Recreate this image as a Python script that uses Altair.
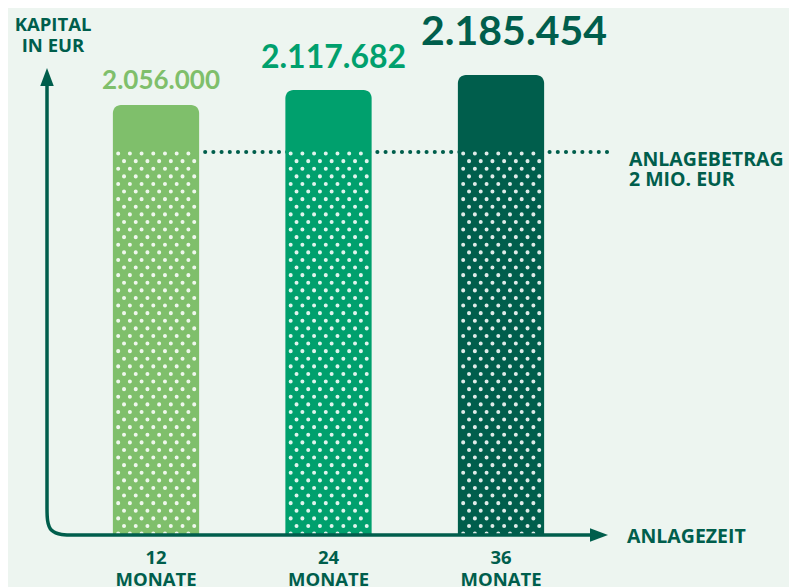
import altair as alt
import pandas as pd

# ---------------- data ----------------
months = [12, 24, 36]
month_labels = ["12", "24", "36"]
month_unit = "MONATE"
capital = [2056000, 2117682, 2185454]
capital_labels = ["2.056.000", "2.117.682", "2.185.454"]
investment = 2000000
investment_label = ["ANLAGEBETRAG", "2 MIO. EUR"]
y_title = ["KAPITAL", "IN EUR"]
x_title = "ANLAGEZEIT"

# ---------------- style ----------------
BG = "#edf5f0"
DARK = "#005e4c"
bar_colors = ["#7fbf6b", "#00a06d", "#005e4c"]
label_sizes = [26, 32, 41]
label_dx = [5, 5, 13]
label_dy = [-16, -22, -30]
FONT_NUM = "Lato"
FONT_LBL = "Open Sans"
LBL_SIZE = 18.5
LBL_SIZE_R = 19.5

W, H = 781, 579
PX_PER_MONTH = 14.375
X_MIN = 12 - 148 / PX_PER_MONTH
X_MAX = X_MIN + W / PX_PER_MONTH
# the infographic is not to scale: piecewise value scale
Y_DOMAIN = [0, investment] + capital
Y_RANGE = [527, 144, 97, 82, 67]
BAR_HALF = 3.0
AXIS_X0 = X_MIN + 39 / PX_PER_MONTH
AXIS_X1 = X_MIN + 600 / PX_PER_MONTH
Y_TOP = 2217000
LINE_TOP = 2172000
LINE_X_END = AXIS_X1 - 10 / PX_PER_MONTH
CORNER_DY = 146000
CORNER_DX = 1.95
REF_LINE_START = months[0] + BAR_HALF + 6 / PX_PER_MONTH

XS = alt.Scale(domain=[X_MIN, X_MAX], range=[0, W], zero=False, nice=False)
YS = alt.Scale(domain=Y_DOMAIN, range=Y_RANGE, zero=False, nice=False)


def X(field):
    return alt.X(field, type="quantitative", scale=XS, axis=None)


def Y(field):
    return alt.Y(field, type="quantitative", scale=YS, axis=None)


def XD(v):
    return alt.XDatum(v, type="quantitative", scale=XS, axis=None)


def YD(v):
    return alt.YDatum(v, type="quantitative", scale=YS, axis=None)


bars_df = pd.DataFrame({
    "month": months,
    "capital": capital,
    "label": capital_labels,
    "mlabel": month_labels,
    "color": bar_colors,
})

# 2 Mio reference line (dotted)
ref_line = alt.Chart(pd.DataFrame({"a": [0]})).mark_rule(
    color=DARK, strokeWidth=4, strokeCap="round", strokeDash=[0.1, 8.1]
).encode(x=XD(REF_LINE_START), x2=alt.X2Datum(AXIS_X1), y=YD(investment))

bars = alt.Chart(bars_df).mark_bar(
    cornerRadiusTopLeft=8, cornerRadiusTopRight=8
).transform_calculate(
    x0=f"datum.month - {BAR_HALF}", x1=f"datum.month + {BAR_HALF}"
).encode(
    x=X("x0"), x2="x1:Q", y=Y("capital"), y2=alt.Y2Datum(0),
    color=alt.Color("color:N", scale=None),
)

# dotted texture on the lower part of each bar (two staggered column sets)
colsA = [5.3 + 11.7 * k for k in range(7)]
colsB = [11.15 + 11.7 * k for k in range(7)]


def pattern(cols, offset):
    xs = [m - BAR_HALF + c / PX_PER_MONTH for m in months for c in cols]
    return alt.Chart(pd.DataFrame({"px": xs})).mark_rule(
        color="white", opacity=0.88, strokeWidth=4, strokeCap="round",
        strokeDash=[0.1, 15.1], strokeDashOffset=offset,
    ).encode(x=X("px"), y=YD(investment), y2=alt.Y2Datum(0))


patA = pattern(colsA, -1.5)
patB = pattern(colsB, 6.1)

axis_df = pd.DataFrame({
    "i": list(range(7)),
    "x": [AXIS_X0, AXIS_X0, AXIS_X0, AXIS_X0, AXIS_X0 + CORNER_DX,
          AXIS_X0 + 2 * CORNER_DX, LINE_X_END],
    "y": [LINE_TOP, 2 * CORNER_DY, CORNER_DY, 0, 0, 0, 0],
})
axis_line = alt.Chart(axis_df).mark_line(
    interpolate="basis", color=DARK, strokeWidth=3.5
).encode(x=X("x"), y=Y("y"), order="i:Q")

arrow_up = alt.Chart(pd.DataFrame({"a": [0]})).mark_point(
    shape="M0,0L0.75,2L-0.75,2Z", size=324, filled=True, opacity=1,
    color=DARK, strokeWidth=0,
).encode(x=XD(AXIS_X0), y=YD(Y_TOP))
arrow_right = alt.Chart(pd.DataFrame({"a": [0]})).mark_point(
    shape="M0,0L-2,-0.75L-2,0.75Z", size=324, filled=True, opacity=1,
    color=DARK, strokeWidth=0,
).encode(x=XD(AXIS_X1), y=YD(0))


def text_layer(text, x, y, size, color, font, align="center", dx=0, dy=0):
    return alt.Chart(pd.DataFrame({"t": [text]})).mark_text(
        align=align, baseline="alphabetic", dx=dx, dy=dy, fontSize=size,
        font=font, fontWeight="bold", color=color,
    ).encode(x=XD(x), y=YD(y), text="t:N")


layers = [ref_line, bars, patA, patB, axis_line, arrow_up, arrow_right]

for i in range(3):
    layers.append(text_layer(capital_labels[i], months[i], capital[i],
                             label_sizes[i], bar_colors[i], FONT_NUM,
                             dx=label_dx[i], dy=label_dy[i]))

cat_top = alt.Chart(bars_df).mark_text(
    baseline="alphabetic", dy=29, fontSize=LBL_SIZE, font=FONT_LBL,
    fontWeight="bold", color=DARK,
).encode(x=X("month"), y=YD(0), text="mlabel:N")
cat_bot = alt.Chart(bars_df).mark_text(
    baseline="alphabetic", dy=51, fontSize=LBL_SIZE, font=FONT_LBL,
    fontWeight="bold", color=DARK,
).encode(x=X("month"), y=YD(0), text=alt.value(month_unit))
layers += [cat_top, cat_bot]

layers.append(text_layer(y_title[0], AXIS_X0, Y_TOP, LBL_SIZE, DARK, FONT_LBL,
                         dx=6, dy=-37))
layers.append(text_layer(y_title[1], AXIS_X0, Y_TOP, LBL_SIZE, DARK, FONT_LBL,
                         dx=6, dy=-16))
layers.append(text_layer(investment_label[0], AXIS_X1, investment, LBL_SIZE_R,
                         DARK, FONT_LBL, align="left", dx=21, dy=14))
layers.append(text_layer(investment_label[1], AXIS_X1, investment, LBL_SIZE_R,
                         DARK, FONT_LBL, align="left", dx=21, dy=34))
layers.append(text_layer(x_title, AXIS_X1, 0, LBL_SIZE_R, DARK, FONT_LBL,
                         align="left", dx=19, dy=8))

chart = alt.layer(*layers).properties(
    width=W, height=H, background=BG, padding=0,
    autosize=alt.AutoSizeParams(type="none"),
).configure_view(stroke=None)

chart.save("out.html", embed_options={"renderer": "svg", "actions": False})
